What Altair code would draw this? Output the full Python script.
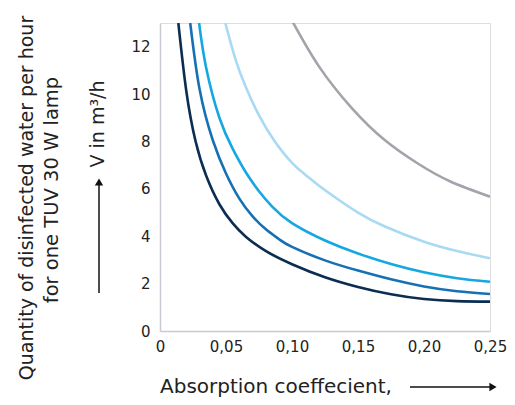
import altair as alt
import pandas as pd

# curve data
x1 = [0.0139, 0.02, 0.027, 0.035, 0.045, 0.055, 0.065, 0.08, 0.10, 0.125, 0.15, 0.175, 0.2, 0.225, 0.25]
v1 = [13.0, 10.1, 8.0, 6.55, 5.35, 4.55, 3.98, 3.38, 2.82, 2.27, 1.86, 1.55, 1.35, 1.26, 1.24]
x2 = [0.0229, 0.03, 0.04, 0.05, 0.06, 0.07, 0.08, 0.09, 0.1, 0.125, 0.15, 0.175, 0.2, 0.225, 0.25]
v2 = [13.0, 10.2, 8.05, 6.65, 5.6, 4.85, 4.3, 3.88, 3.55, 2.98, 2.55, 2.18, 1.88, 1.68, 1.56]
x3 = [0.0296, 0.035, 0.045, 0.055, 0.065, 0.075, 0.085, 0.1, 0.125, 0.15, 0.175, 0.2, 0.225, 0.25]
v3 = [13.0, 11.1, 9.0, 7.7, 6.7, 5.9, 5.25, 4.55, 3.82, 3.27, 2.83, 2.48, 2.23, 2.08]
x4 = [0.0495, 0.057, 0.065, 0.075, 0.087, 0.1, 0.11, 0.12, 0.135, 0.15, 0.17, 0.2, 0.225, 0.25]
v4 = [13.0, 11.5, 10.3, 9.1, 8.0, 7.1, 6.6, 6.15, 5.55, 5.0, 4.42, 3.77, 3.38, 3.07]
x5 = [0.1, 0.1204, 0.1453, 0.17, 0.195, 0.22, 0.25]
v5 = [13.1, 11.17, 9.41, 8.07, 7.08, 6.31, 5.67]

series = ["c1", "c2", "c3", "c4", "c5"]
colors = ["#0b2d52", "#1670b4", "#14a8e2", "#a8daf4", "#a3a3ab"]

x_ticks = [0, 0.05, 0.10, 0.15, 0.20, 0.25]
y_ticks = [0, 2, 4, 6, 8, 10, 12]

rows = []
for name, xs, vs in zip(series, [x1, x2, x3, x4, x5], [v1, v2, v3, v4, v5]):
    for a, b in zip(xs, vs):
        rows.append({"s": name, "x": a, "v": b})
df = pd.DataFrame(rows)

FONT = "DejaVu Sans"
TXT = "#222222"

lines = alt.Chart(df).mark_line(strokeWidth=2.6, interpolate="natural", clip=True).encode(
    x=alt.X("x:Q", scale=alt.Scale(domain=[0, 0.25], nice=False),
            axis=alt.Axis(values=x_ticks, title=None, grid=False, ticks=False,
                          domainColor="#c9c9d1", domainWidth=1.5,
                          labelExpr="datum.value == 0 ? '0' : replace(format(datum.value, '.2f'), '.', ',')",
                          labelFont=FONT, labelFontSize=15, labelColor=TXT, labelPadding=8,
                          labelFlush=False)),
    y=alt.Y("v:Q", scale=alt.Scale(domain=[0, 13], nice=False),
            axis=alt.Axis(values=y_ticks, title=None, grid=False, ticks=False,
                          domainColor="#c9c9d1", domainWidth=1.5,
                          labelFont=FONT, labelFontSize=15, labelColor=TXT, labelPadding=10)),
    color=alt.Color("s:N", scale=alt.Scale(domain=series, range=colors), legend=None),
    detail="s:N",
)

one = alt.Data(values=[{"a": 1}])

def text(t, x, y, angle=0, align="center", size=20):
    return alt.Chart(one).mark_text(text=t, font=FONT, fontSize=size, color=TXT,
                                    angle=angle, align=align, baseline="middle").encode(
        x=alt.value(x), y=alt.value(y))

ytitle1 = text("Quantity of disinfected water per hour", -133, 175, angle=270, size=19)
ytitle2 = text("for one TUV 30 W lamp", -108, 167, angle=270, size=19.5)
vlabel = text("V in m³/h", -62, 101, angle=270, size=19)
xtitle = text("Absorption coeffecient,", 0, 364, align="left")

yarrow = alt.Chart(one).mark_rule(color="#111111", strokeWidth=1.5).encode(
    x=alt.value(-61), y=alt.value(270), y2=alt.value(162))
yhead = alt.Chart(one).mark_point(shape="triangle-up", filled=True, color="#111111", size=70, opacity=1).encode(
    x=alt.value(-61), y=alt.value(159))
xarrow = alt.Chart(one).mark_rule(color="#111111", strokeWidth=1.5).encode(
    x=alt.value(250), x2=alt.value(330), y=alt.value(364))
xhead = alt.Chart(one).mark_point(shape="triangle-right", filled=True, color="#111111", size=70, opacity=1).encode(
    x=alt.value(333), y=alt.value(364))

chart = alt.layer(lines, ytitle1, ytitle2, vlabel, xtitle, yarrow, yhead, xarrow, xhead).properties(
    width=330, height=308,
    autosize=alt.AutoSizeParams(type="none"),
    padding={"left": 152, "top": 15, "right": 17, "bottom": 66},
).configure_view(stroke=None).configure(background="white")

chart.save("out.html", embed_options={"renderer": "svg", "actions": False})
